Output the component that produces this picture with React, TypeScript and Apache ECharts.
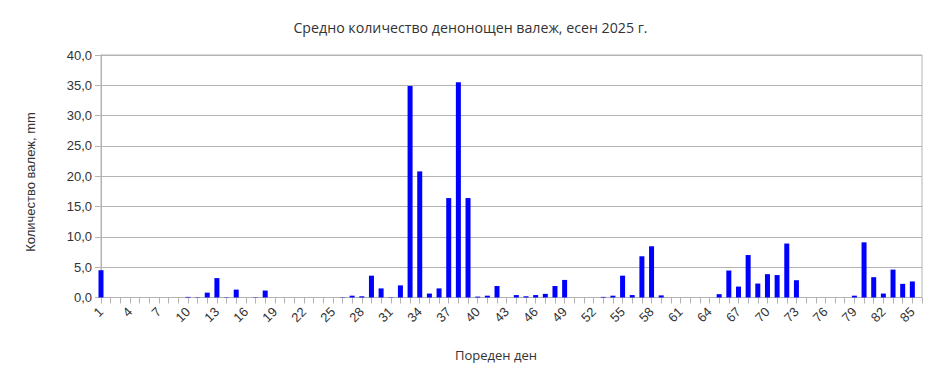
import React, { useEffect, useRef } from "react";
import * as echarts from "echarts";

const days: string[] = Array.from({ length: 86 }, (_, i) => String(i + 1));

const precipitation: number[] = [
  4.5, 0, 0, 0, 0, 0, 0, 0, 0, 0.1,
  0.05, 0.8, 3.2, 0.05, 1.3, 0, 0.05, 1.15, 0, 0,
  0, 0, 0, 0, 0, 0.05, 0.3, 0.2, 3.6, 1.5,
  0.05, 2.0, 34.9, 20.8, 0.65, 1.5, 16.4, 35.5, 16.4, 0.15,
  0.3, 1.9, 0, 0.4, 0.2, 0.4, 0.6, 1.9, 2.9, 0,
  0, 0, 0.1, 0.3, 3.6, 0.4, 6.8, 8.45, 0.35, 0,
  0, 0, 0, 0, 0.55, 4.45, 1.8, 7.0, 2.3, 3.85,
  3.7, 8.9, 2.85, 0, 0, 0, 0, 0, 0.3, 9.1,
  3.35, 0.65, 4.6, 2.25, 2.65, 0,
];

const titleText = "Средно количество денонощен валеж, есен 2025 г.";
const xName = "Пореден ден";
const yName = "Количество валеж, mm";

export default function App() {
  const ref = useRef<HTMLDivElement>(null);
  useEffect(() => {
    if (!ref.current) return;
    const chart = echarts.init(ref.current, undefined, { renderer: "svg" });
    chart.setOption({
      animation: false,
      backgroundColor: "#ffffff",
      title: [
        {
          text: titleText,
          left: "center",
          top: 15,
          textStyle: {
            fontFamily: "Open Sans",
            fontSize: 14.2,
            fontWeight: "normal",
            color: "#333333",
          },
        },
        {
          text: xName,
          left: 450,
          top: 343,
          textStyle: {
            fontFamily: "Open Sans",
            fontSize: 13,
            fontWeight: "normal",
            color: "#333333",
          },
        },
      ],
      graphic: [
        {
          type: "text",
          x: 30,
          y: 182,
          rotation: Math.PI / 2,
          style: {
            text: yName,
            fontFamily: "Liberation Sans",
            fontSize: 13,
            fill: "#333333",
            textAlign: "center",
            textVerticalAlign: "middle",
          },
        },
      ],
      grid: {
        left: 101,
        right: 19,
        top: 55,
        bottom: 82.5,
        show: true,
        borderColor: "#b3b3b3",
        borderWidth: 1,
      },
      xAxis: {
        type: "category",
        data: days,
        boundaryGap: false,
        axisLine: { lineStyle: { color: "#b3b3b3" } },
        axisTick: { interval: 0, length: 6, lineStyle: { color: "#b3b3b3" } },
        axisLabel: {
          interval: 2,
          rotate: 45,
          fontFamily: "Liberation Sans",
          fontSize: 13,
          color: "#333333",
          margin: 12,
        },
        splitLine: { show: false },
      },
      yAxis: {
        type: "value",
        min: 0,
        max: 40,
        interval: 5,
        axisLine: { show: true, lineStyle: { color: "#b3b3b3" } },
        axisTick: { show: true, length: 6, lineStyle: { color: "#b3b3b3" } },
        axisLabel: {
          formatter: (v: number) => v.toFixed(1).replace(".", ","),
          fontFamily: "Liberation Sans",
          fontSize: 13,
          color: "#333333",
          margin: 9,
        },
        splitLine: { lineStyle: { color: "#b3b3b3" } },
      },
      series: [
        {
          type: "bar",
          data: precipitation,
          barWidth: 5,
          itemStyle: { color: "#0000ff" },
          clip: true,
        },
      ],
    });
    return () => chart.dispose();
  }, []);
  return (
    <div
      ref={ref}
      style={{ position: "absolute", left: 0, top: 0, width: 941, height: 380 }}
    />
  );
}
